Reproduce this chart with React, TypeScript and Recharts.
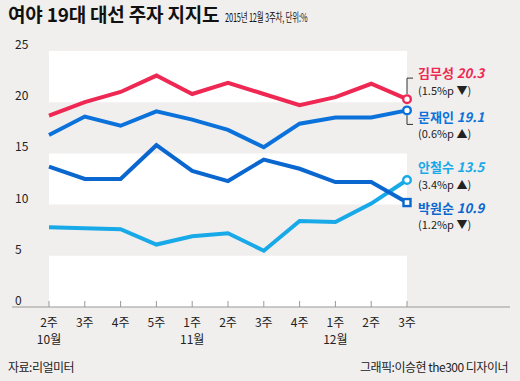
import React from 'react';
import { LineChart, Line, XAxis, YAxis, ReferenceArea } from 'recharts';

const weeks = ['2주', '3주', '4주', '5주', '1주', '2주', '3주', '4주', '1주', '2주', '3주'];
const months = ['10월', '', '', '', '11월', '', '', '', '12월', '', ''];

const kimValues = [18.7, 20.0, 21.0, 22.6, 20.8, 21.9, 20.8, 19.7, 20.5, 21.8, 20.3];
const moonValues = [16.8, 18.6, 17.7, 19.1, 18.3, 17.3, 15.6, 17.9, 18.5, 18.5, 19.2];
const ahnValues = [7.8, 7.7, 7.6, 6.1, 6.9, 7.2, 5.5, 8.4, 8.3, 10.1, 12.4];
const parkValues = [13.7, 12.5, 12.5, 15.8, 13.3, 12.3, 14.4, 13.5, 12.2, 12.2, 10.2];

const yTicks = [0, 5, 10, 15, 20, 25];
const whiteBands = [
  [0, 5],
  [10, 15],
  [20, 25],
];

const data = weeks.map((w, i) => ({
  idx: i,
  kim: kimValues[i],
  moon: moonValues[i],
  ahn: ahnValues[i],
  park: parkValues[i],
}));

const FONT = '"Noto Sans CJK KR", "Noto Sans", sans-serif';

interface SeriesInfo {
  key: string;
  name: string;
  last: string;
  change: string;
  color: string;
  square?: boolean;
  nameDy: number;
  changeDy: number;
  bracket?: 'up' | 'down';
}

const series: SeriesInfo[] = [
  { key: 'kim', name: '김무성', last: '20.3', change: '(1.5%p ▼)', color: '#ee2853', nameDy: -21, changeDy: -4, bracket: 'up' },
  { key: 'moon', name: '문재인', last: '19.1', change: '(0.6%p ▲)', color: '#0c72db', nameDy: 12, changeDy: 28, bracket: 'down' },
  { key: 'ahn', name: '안철수', last: '13.5', change: '(3.4%p ▲)', color: '#18a9e8', nameDy: -8, changeDy: 9 },
  { key: 'park', name: '박원순', last: '10.9', change: '(1.2%p ▼)', color: '#0a67cf', square: true, nameDy: 10, changeDy: 26 },
];

const lastIndex = weeks.length - 1;

function makeDot(s: SeriesInfo) {
  return (props: any) => {
    const { cx, cy, index } = props;
    if (index !== lastIndex) return <g key={`${s.key}-${index}`} />;
    const tx = cx + 11;
    return (
      <g key={`${s.key}-${index}`}>
        {s.bracket === 'up' && (
          <path d={`M${cx},${cy - 5} L${cx},${cy - 21} L${cx + 6},${cy - 21}`} stroke="#333" strokeWidth={1} fill="none" />
        )}
        {s.bracket === 'down' && (
          <path d={`M${cx},${cy + 5} L${cx},${cy + 14} L${cx + 6},${cy + 14}`} stroke="#333" strokeWidth={1} fill="none" />
        )}
        {s.square ? (
          <rect x={cx - 3.5} y={cy - 3.5} width={7} height={7} fill="#fff" stroke={s.color} strokeWidth={2.4} />
        ) : (
          <circle cx={cx} cy={cy} r={3.8} fill="#fff" stroke={s.color} strokeWidth={2.4} />
        )}
        <text x={tx} y={cy + s.nameDy} fontFamily={FONT} fontSize={13} fontWeight={700} fill={s.color}>
          <tspan>{s.name} </tspan>
          <tspan fontStyle="italic">{s.last}</tspan>
        </text>
        <text x={tx} y={cy + s.changeDy} fontFamily={FONT} fontSize={11} fill="#222">
          {s.change}
        </text>
      </g>
    );
  };
}

const XTick = (props: any) => {
  const { x, y, payload } = props;
  const i = payload.value as number;
  return (
    <g>
      <line x1={x} x2={x} y1={y - 6} y2={y} stroke="#999" strokeWidth={1} />
      <text x={x} y={y + 20} textAnchor="middle" fontFamily={FONT} fontSize={12} fill="#222">
        {weeks[i]}
      </text>
      {months[i] && (
        <text x={x} y={y + 37} textAnchor="middle" fontFamily={FONT} fontSize={12} fill="#222">
          {months[i]}
        </text>
      )}
    </g>
  );
};

const YTick = (props: any) => {
  const { y, payload } = props;
  return (
    <text x={15} y={y - 2} fontFamily={FONT} fontSize={12} fill="#222">
      {payload.value}
    </text>
  );
};

export default function App() {
  return (
    <div style={{ position: 'relative', width: 520, height: 381, background: '#f1efed', overflow: 'hidden' }}>
      <style>{'body{margin:0}'}</style>
      <div
        style={{
          position: 'absolute',
          left: 8,
          top: 4,
          whiteSpace: 'nowrap',
          fontFamily: FONT,
          lineHeight: 1,
          color: '#111',
        }}
      >
        <span style={{ fontSize: 19, fontWeight: 700, letterSpacing: -0.2 }}>여야 19대 대선 주자 지지도</span>
        <span
          style={{
            display: 'inline-block',
            fontSize: 12,
            letterSpacing: -0.3,
            marginLeft: 6,
            transform: 'scaleX(0.62)',
            transformOrigin: 'left center',
          }}
        >
          2015년 12월 3주차, 단위:%
        </span>
      </div>
      <div style={{ position: 'absolute', left: 0, top: 0 }}>
        <LineChart width={520} height={381} data={data} margin={{ top: 51, right: 10, left: 11, bottom: 0 }}>
          {whiteBands.map(([a, b]) => (
            <ReferenceArea key={a} y1={a} y2={b} fill="#fff" fillOpacity={1} stroke="none" />
          ))}
          <XAxis
            dataKey="idx"
            height={74}
            padding={{ left: 37, right: 103 }}
            axisLine={{ stroke: '#999' }}
            tickLine={false}
            tickSize={0}
            tickMargin={0}
            interval={0}
            tick={<XTick />}
          />
          <YAxis
            width={1}
            domain={[0, 25]}
            ticks={yTicks}
            interval={0}
            axisLine={false}
            tickLine={false}
            tick={<YTick />}
          />
          {series.map((s) => (
            <Line
              key={s.key}
              type="linear"
              dataKey={s.key}
              stroke={s.color}
              strokeWidth={4}
              dot={makeDot(s)}
              activeDot={false}
              isAnimationActive={false}
            />
          ))}
        </LineChart>
      </div>
      <div style={{ position: 'absolute', left: 8, top: 361, fontFamily: FONT, fontSize: 12, lineHeight: 1, color: '#222', letterSpacing: -0.5 }}>
        자료:리얼미터
      </div>
      <div style={{ position: 'absolute', right: 12, top: 361, fontFamily: FONT, fontSize: 12, lineHeight: 1, color: '#222', letterSpacing: -0.5 }}>
        그래픽:이승현 the300 디자이너
      </div>
    </div>
  );
}
